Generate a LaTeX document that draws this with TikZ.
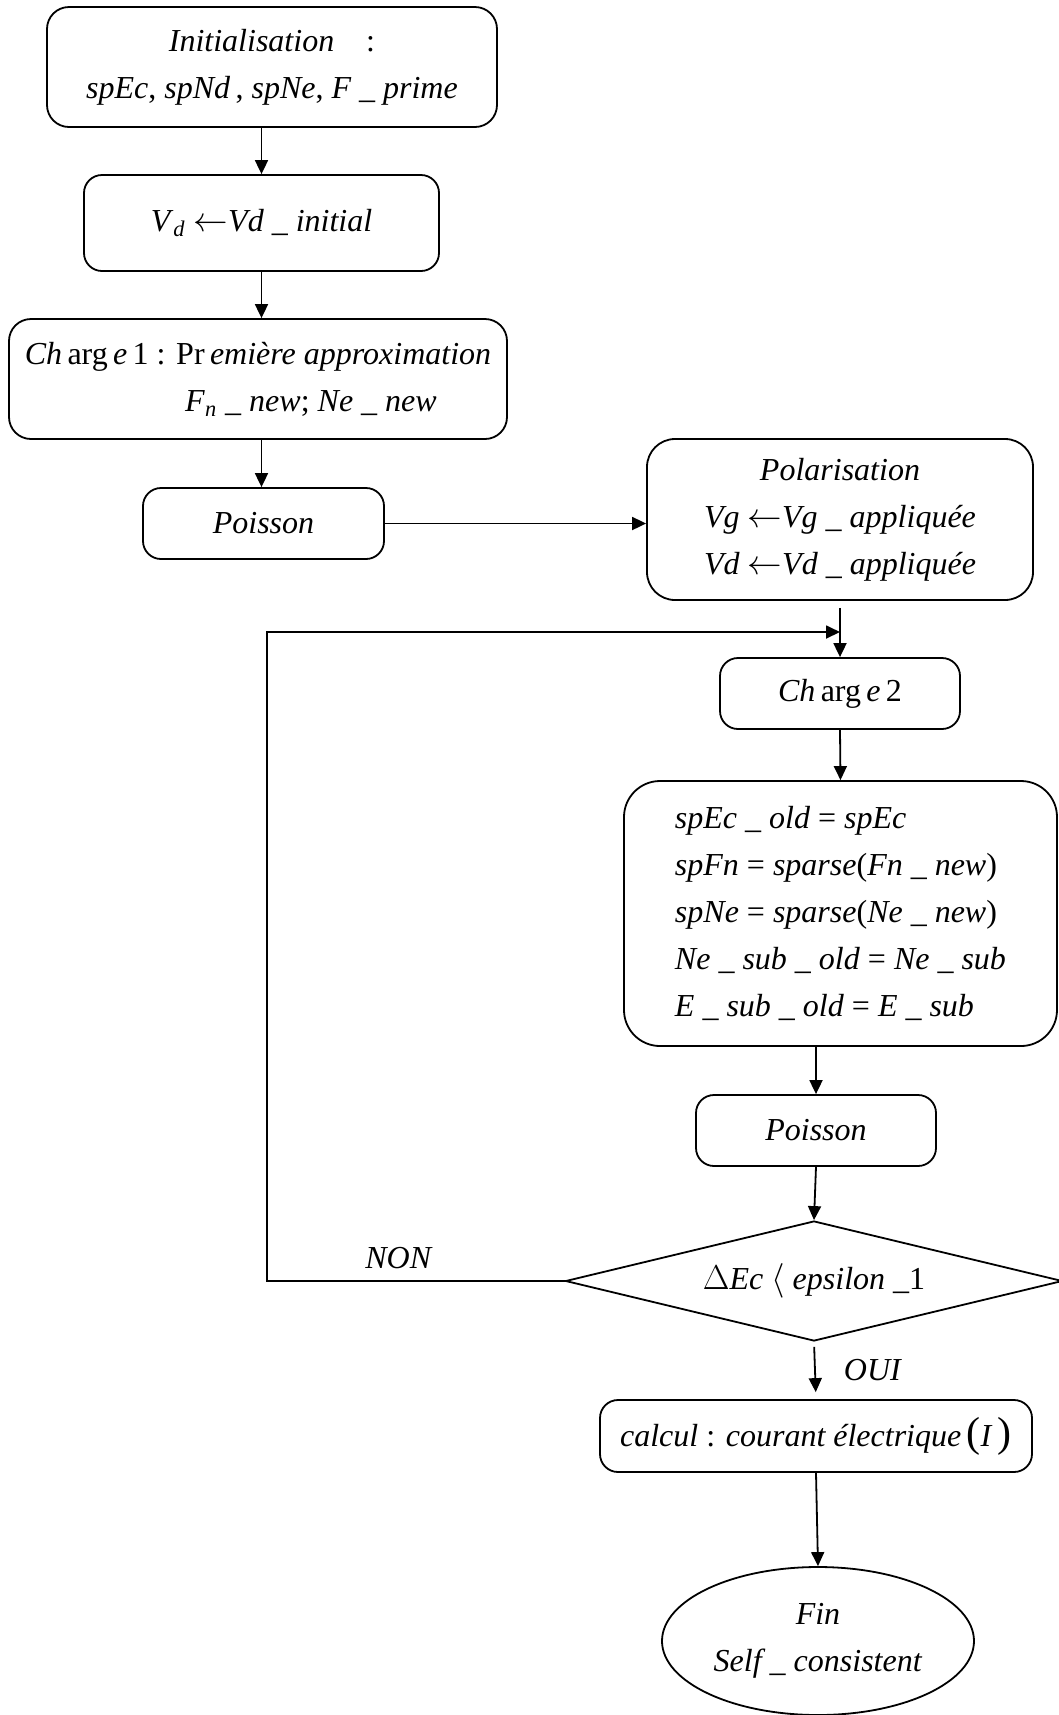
\documentclass[tikz,border=0pt]{standalone}
\usepackage{fontspec}
\setmainfont{Liberation Serif}[ItalicFont={Liberation Serif Italic}]
\usetikzlibrary{shapes.geometric,arrows.meta}

\begin{document}
\begin{tikzpicture}[x=0.5pt,y=-0.5pt,line width=0.9pt,
  font=\fontsize{16}{23.5}\selectfont,
  box/.style={draw,rectangle,rounded corners=9pt,align=center,inner sep=0pt},
  test/.style={draw,diamond,inner sep=0pt,shape aspect=4.14,minimum width=248.5pt,minimum height=60pt},
  fin/.style={draw,ellipse,align=center,inner sep=0pt,minimum width=156pt,minimum height=74pt},
  arr/.style={-{Triangle[length=7pt,width=6.5pt]}}]
\useasboundingbox (0,0) rectangle (1059,1715);

% premiere approximation
\node[box,minimum width=225pt,minimum height=60pt,rounded corners=11pt] (init) at (272,67)
  {\textit{Initialisation}\quad :\\ \textit{spEc}, \textit{spNd}\,, \textit{spNe}, \textit{F \_ prime}};
\node[box,minimum width=177.5pt,minimum height=48pt] (vd) at (261.5,223)
  {\textit{V}\textsubscript{\textit{d}} $\leftarrow$\textit{Vd \_ initial}};
\node[box,minimum width=249pt,minimum height=60pt,rounded corners=11pt] (ch1) at (258,379)
  {\textit{Ch}\,arg\,\textit{e}\,1 : Pr\,\textit{emière approximation}\\
   \hspace*{53pt}\textit{F}\textsubscript{\textit{n}} \textit{\_ new}; \textit{Ne \_ new}};
\node[box,minimum width=120.5pt,minimum height=35.5pt] (poi1) at (263.5,523.5) {\textit{Poisson}};

% boucle self-consistante
\node[box,minimum width=193pt,minimum height=80.5pt,rounded corners=14pt] (polar) at (840,519.5)
  {\textit{Polarisation}\\ \textit{Vg} $\leftarrow$\textit{Vg \_ appliquée}\\ \textit{Vd} $\leftarrow$\textit{Vd \_ appliquée}};
\coordinate (retour) at (840,632);
\node[box,minimum width=120pt,minimum height=35.5pt] (ch2) at (840,693.5) {\textit{Ch}\,arg\,\textit{e}\,2};
\node[box,minimum width=216.5pt,minimum height=132.5pt,rounded corners=18pt,align=left] (maj) at (840.5,913.5)
  {\textit{spEc \_ old} = \textit{spEc}\\
   \textit{spFn} = \textit{sparse}(\textit{Fn \_ new})\\
   \textit{spNe} = \textit{sparse}(\textit{Ne \_ new})\\
   \textit{Ne \_ sub \_ old} = \textit{Ne \_ sub}\\
   \textit{E \_ sub \_ old} = \textit{E \_ sub}};
\node[box,minimum width=120pt,minimum height=35.5pt] (poi2) at (816,1130.5) {\textit{Poisson}};
\node[test] (cond) at (814,1281) {$\Delta$\textit{Ec} $\langle$ \textit{epsilon} \_1};
\node[box,minimum width=216pt,minimum height=36pt] (calc) at (816,1436)
  {\textit{calcul} : \textit{courant électrique}\,{\fontsize{21}{21}\selectfont(}\textit{I}\,{\fontsize{21}{21}\selectfont)}};
\node[fin] (stop) at (818,1641) {\textit{Fin}\\ \textit{Self \_ consistent}};

\node (non) at (399,1258) {\textit{NON}};
\node (oui) at (873,1370) {\textit{OUI}};

\draw[arr] (vd.north |- init.south) -- (vd.north);
\draw[arr] (vd.south) -- (vd.south |- ch1.north);
\draw[arr] (vd.south |- ch1.south) -- (vd.south |- poi1.north);
\draw[arr] (poi1.east) -- (poi1.east -| polar.west);
\draw[arr,shorten <=3.5pt] (polar.south) -- (ch2.north);
\draw[arr] (cond.west) -- ++(-298,0) |- (retour);
\draw[arr] (ch2.south) -- (maj.north);
\draw[arr] (poi2.north |- maj.south) -- (poi2.north);
\draw[arr] (poi2.south) -- (cond.north);
\draw[arr,shorten <=2.5pt,shorten >=3.5pt] (cond.south) -- (calc.north);
\draw[arr] (calc.south) -- (stop.north);
\end{tikzpicture}
\end{document}
